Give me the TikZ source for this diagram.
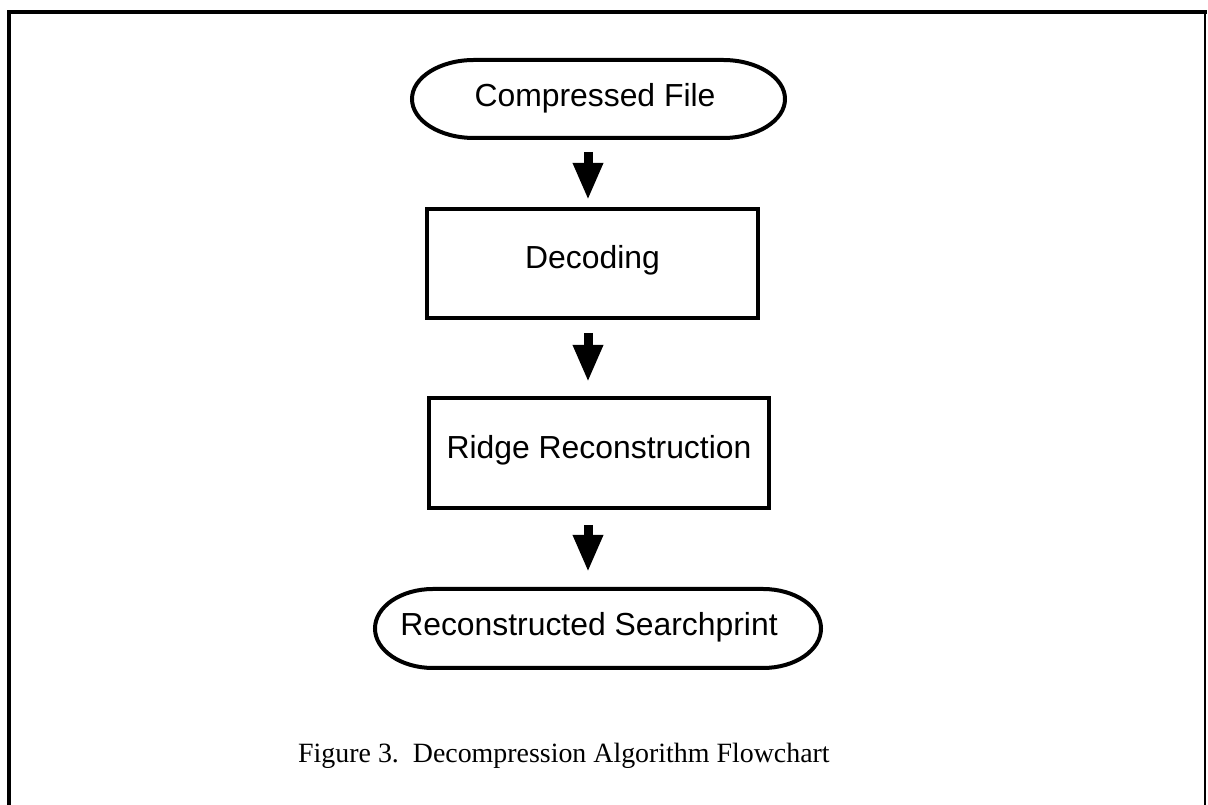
\documentclass[tikz,border=0pt]{standalone}
\usepackage{fontspec}
\setmainfont{Liberation Serif}
\newfontfamily\flowfont{Liberation Sans}
\usetikzlibrary{arrows.meta,calc}

% Oval outline around a node: straight top and bottom, half-ellipse ends.
% #1 node name, #2 horizontal radius of the ends, #3 half height
\newcommand\ovaloutline[3]{%
  \draw[outline] ($(#1.north west)+(#2,0)$) -- ($(#1.north east)+(-#2,0)$)
    arc[start angle=90, end angle=-90, x radius=#2bp, y radius=#3bp]
    -- ($(#1.south west)+(#2,0)$)
    arc[start angle=270, end angle=90, x radius=#2bp, y radius=#3bp] -- cycle;}

\begin{document}
\begin{tikzpicture}[x=1bp, y=1bp,
  flow/.style={inner sep=0pt, outer sep=0pt,
    font=\flowfont\fontsize{32}{38}\selectfont},
  procbox/.style={flow, draw, line width=4bp, text height=24bp, text depth=13bp},
  terminal/.style={flow, text height=24bp, text depth=9bp},
  outline/.style={line width=4bp},
  bigarrow/.style={line width=9bp, -{Triangle[length=37bp, width=28bp]}},
  frame/.style={line cap=rect},
]
\useasboundingbox (0,0) rectangle (1208,805);

% page frame
\draw[frame, line width=4.5bp] (9,0) -- (9,793) -- (1205,793);
\draw[frame, line width=1.8bp] (1205,793) -- (1205,0);

% flowchart
\node[terminal, minimum width=373bp, minimum height=78bp] (cf) at (598.5,706)
  {\hspace*{-7bp}Compressed File};
\ovaloutline{cf}{62}{39}

\node[procbox, minimum width=331bp, minimum height=109bp] (dec) at (592.5,541.5)
  {Decoding};

\node[procbox, minimum width=340bp, minimum height=110bp] (ridge) at (599,352)
  {Ridge Reconstruction};

\node[terminal, minimum width=446bp, minimum height=79bp] (rs) at (598,176.5)
  {\hspace*{-18bp}Reconstructed Searchprint};
\ovaloutline{rs}{58}{39.5}

% connectors
\coordinate (ax) at (588,0);
\draw[bigarrow, shorten <=14bp, shorten >=9bp] (cf.south -| ax) -- (dec.north -| ax);
\draw[bigarrow, shorten <=15bp, shorten >=16bp] (dec.south -| ax) -- (ridge.north -| ax);
\draw[bigarrow, shorten <=17bp, shorten >=17bp] (ridge.south -| ax) -- (rs.north -| ax);

% caption
\node[anchor=base west, inner sep=0pt, font=\fontsize{28}{34}\selectfont] (caption)
  at (298,42) {Figure 3.\ \ Decompression Algorithm Flowchart};
\end{tikzpicture}
\end{document}
